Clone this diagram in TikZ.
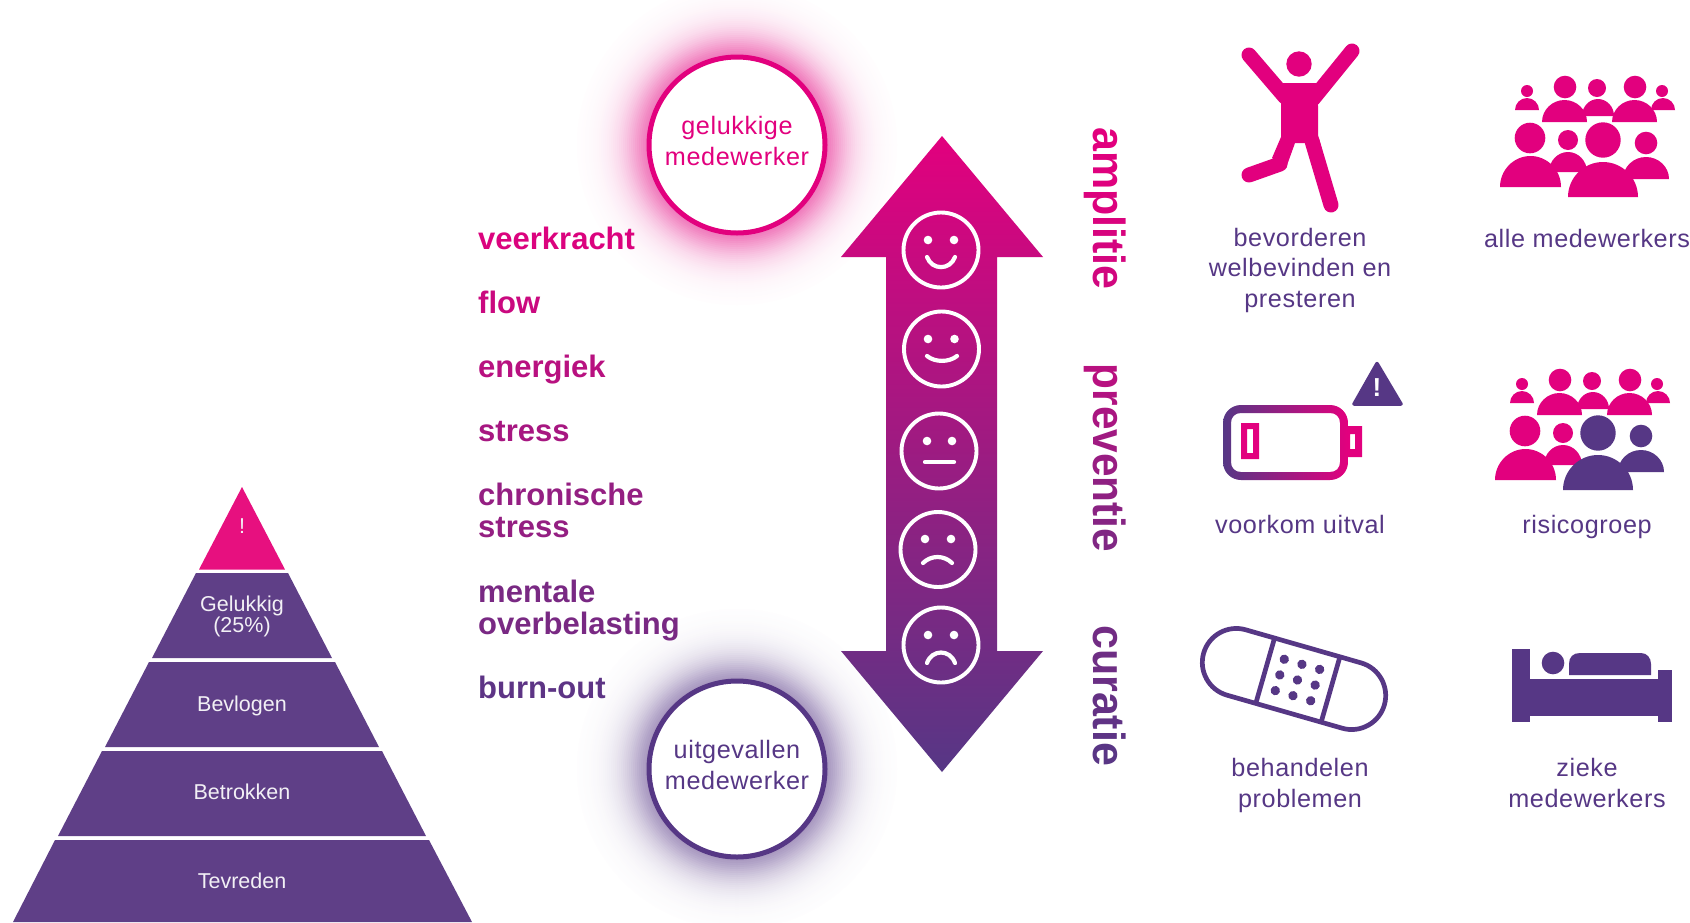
\documentclass[tikz,border=0pt]{standalone}
\usepackage{fontspec}
\setmainfont{Liberation Sans}
\newfontfamily\lsfont[LetterSpace=2.4]{Liberation Sans}
\definecolor{pk}{HTML}{E2007E}
\definecolor{pu}{HTML}{563785}
\definecolor{pm}{HTML}{A32583}
\definecolor{pyr}{HTML}{5F3F87}
\definecolor{pyrtop}{HTML}{E7107F}
\newcommand\persn[8]{%
  \fill[#1] (#2,#3) circle[radius=#4];
  \fill[#1] (#5,#8) .. controls (#5,{#8-.55*(#8-#7)}) and ({(#5+#6)/2-.275*(#6-#5)},#7) .. ({(#5+#6)/2},#7)
     .. controls ({(#5+#6)/2+.275*(#6-#5)},#7) and (#6,{#8-.55*(#8-#7)}) .. (#6,#8) -- cycle;}
\newcommand\pkpeople{%
  \persn{pk}{1527}{91}{6}{1515}{1539}{98}{110}
  \persn{pk}{1565}{87}{11.3}{1542}{1587}{100}{122}
  \persn{pk}{1597}{88}{9}{1582}{1614}{99}{116}
  \persn{pk}{1635}{87}{11.3}{1612}{1657}{100}{122}
  \persn{pk}{1662}{91}{6}{1651}{1675}{98}{110}
  \persn{pk}{1530}{138}{15.3}{1500}{1561}{156}{187}
  \persn{pk}{1568}{140}{10}{1549}{1587}{152}{172}}
\newcommand\lw[2]{\textcolor{pk!#1!pu}{#2}}
\tikzset{
  lbl/.style={inner sep=0pt,anchor=base,align=center,text=pu,font=\lsfont\fontsize{25.2}{30.5}\selectfont},
  pyrlbl/.style={inner sep=0pt,anchor=base,align=center,text=white!92!pyr,font=\fontsize{21.5}{21}\selectfont},
  word/.style={inner sep=0pt,anchor=base west,align=left,font=\bfseries\fontsize{31}{32}\selectfont},
  vert/.style={inner sep=0pt,anchor=base west,rotate=-90,xscale=.955,font=\bfseries\fontsize{45}{45}\selectfont},
  smile/.style={draw=white,line width=3.9pt},
  mouth/.style={draw=white,line width=4.2pt,line cap=round},
  ring/.style={fill=white,line width=5pt}
}
\begin{document}
\begin{tikzpicture}[x=1pt,y=-1pt]
\useasboundingbox (0,0) rectangle (1690,922);
\fill[white] (0,0) rectangle (1690,922);
% glows
\foreach \r in {160,158,...,92}{
  \pgfmathsetmacro\p{52*exp(-pow((\r-90)/25,1.4))}
  \fill[pk!\p!white] (737,145) circle[radius=\r];
  \fill[pu!\p!white] (737,769) circle[radius=\r];
}
% pyramid
\fill[pyrtop] (242,487) -- (285,569.5) -- (199,569.5) -- cycle;
\fill[pyr] (196,573) -- (288,573) -- (332,658) -- (152,658) -- cycle;
\fill[pyr] (149,662) -- (335,662) -- (379,747) -- (105,747) -- cycle;
\fill[pyr] (102,751) -- (382,751) -- (426,836) -- (58,836) -- cycle;
\fill[pyr] (55,840) -- (429,840) -- (472,922) -- (13,922) -- cycle;
\node[pyrlbl] (t0) at (242,533) {!};
\node[pyrlbl] (t1) at (242,632.5) {Gelukkig\\(25\%)};
\node[pyrlbl] (t2) at (242,711) {Bevlogen};
\node[pyrlbl] (t3) at (242,799) {Betrokken};
\node[pyrlbl] (t4) at (242,888) {Tevreden};
% left words
\node[word,text=pk!95!pu] (w1) at (478,249) {veerkracht};
\node[word,text=pk!83!pu] (w2) at (478,313) {flow};
\node[word,text=pk!70!pu] (w3) at (478,377) {energiek};
\node[word,text=pk!58!pu] (w4) at (478,441) {stress};
\node[word,text=pk!44!pu] (w5) at (478,537.5) {chronische\\stress};
\node[word,text=pk!25!pu] (w6) at (478,634) {mentale\\overbelasting};
\node[word,text=pk!5!pu] (w7) at (478,698) {burn-out};
% circles
\draw[ring,draw=pk] (737,145) circle[radius=88];
\draw[ring,draw=pu] (737,769) circle[radius=88];
\node[lbl,text=pk] (c1) at (737,165) {gelukkige\\medewerker};
\node[lbl] (c2) at (737,789) {uitgevallen\\medewerker};
% arrow
\path[shading=axis,top color=pk,middle color=pm,bottom color=pu,shading angle=0]
  (942,136) -- (1043,257) -- (997,257) -- (997,651) -- (1043,651) -- (942,772)
  -- (841,651) -- (886,651) -- (886,257) -- (841,257) -- cycle;
% smileys
\draw[smile] (941,250) circle[radius=37.5];
\fill[white] (928,240) circle[radius=4.3] (954,240) circle[radius=4.3];
\draw[mouth] (927,257) .. controls (932,270.5) and (950,270.5) .. (955,257);
\draw[smile] (941.5,349) circle[radius=37.5];
\fill[white] (928,339) circle[radius=4.3] (954.5,339) circle[radius=4.3];
\draw[mouth] (927,356) .. controls (935,362.5) and (949,362.5) .. (957,356);
\draw[smile] (939,451) circle[radius=37.5];
\fill[white] (927,441) circle[radius=4.3] (952,441) circle[radius=4.3];
\draw[mouth] (925,462) -- (954,462);
\draw[smile] (938,549.5) circle[radius=37.5];
\fill[white] (925,539) circle[radius=4.3] (951,539) circle[radius=4.3];
\draw[mouth] (923,563) .. controls (931,555) and (944,555) .. (952,563);
\draw[smile] (941,645) circle[radius=37.5];
\fill[white] (928,635) circle[radius=4.3] (954,635) circle[radius=4.3];
\draw[mouth] (927,663) .. controls (932,649) and (950,649) .. (955,663);
% vertical words
\node[vert,text=pk] (v1) at (1093,127) {\lw{100}{a}\lw{98}{m}\lw{96}{p}\lw{94}{l}\lw{92}{i}\lw{91}{t}\lw{90}{i}\lw{88}{e}};
\node[vert,xscale=.985] (v2) at (1093,363.5) {\lw{70}{p}\lw{65}{r}\lw{59}{e}\lw{53}{v}\lw{47}{e}\lw{41}{n}\lw{37}{t}\lw{34}{i}\lw{30}{e}};
\node[vert] (v3) at (1093,625) {\lw{20}{c}\lw{17}{u}\lw{14}{r}\lw{10}{a}\lw{7}{t}\lw{5}{i}\lw{2}{e}};
% jumping man
\fill[pk] (1299,64) circle[radius=12.7];
\fill[pk] (1283,83) -- (1317,83) -- (1318,106) -- (1318,135) -- (1322,150) -- (1305,143) -- (1295,143)
  -- (1286,168) -- (1272,158) -- (1281,137) -- (1281,104) -- cycle;
\draw[pk,line width=15pt,line cap=round] (1249,55) -- (1285,97);
\draw[pk,line width=15pt,line cap=round] (1352,51) -- (1313,99);
\draw[pk,line width=15pt,line cap=round] (1331,205) -- (1312,141);
\draw[pk,line width=15pt,line cap=round] (1249,175) -- (1280,164);
\node[lbl] (r1) at (1300,307) {bevorderen\\welbevinden en\\presteren};
% all people
\pkpeople
\persn{pk}{1646}{143}{11.3}{1623}{1669}{157}{179}
\persn{pk}{1603}{140}{17.7}{1568}{1638}{162}{197}
\node[lbl] (r2) at (1587,247) {alle medewerkers};
% battery
\path[even odd rule,left color=pu,right color=pk]
  (1223,423) .. controls (1223,413) and (1231,405) .. (1241,405) -- (1330,405)
  .. controls (1340,405) and (1348,413) .. (1348,423) -- (1348,462)
  .. controls (1348,472) and (1340,480) .. (1330,480) -- (1241,480)
  .. controls (1231,480) and (1223,472) .. (1223,462) -- cycle
  (1231,423) .. controls (1231,417) and (1235,413) .. (1241,413) -- (1330,413)
  .. controls (1336,413) and (1340,417) .. (1340,423) -- (1340,462)
  .. controls (1340,468) and (1336,472) .. (1330,472) -- (1241,472)
  .. controls (1235,472) and (1231,468) .. (1231,462) -- cycle;
\fill[pk,even odd rule] (1348,426) rectangle (1362,457) (1350,434) rectangle (1355,449);
\fill[pk,even odd rule] (1241,423) rectangle (1259,459) (1247,429) rectangle (1253,453);
\draw[pu,fill=pu,line width=3.5pt,line join=round] (1377,363.5) -- (1401,404) -- (1354,404) -- cycle;
\node[inner sep=0pt,anchor=base,text=white,font=\bfseries\fontsize{26}{26}\selectfont] (warn) at (1377,396) {!};
\node[lbl] (r3) at (1300,533) {voorkom uitval};
% risk group
\begin{scope}[shift={(-5,293)}]
\pkpeople
\persn{pu}{1646}{143}{11.3}{1623}{1669}{157}{179}
\persn{pu}{1603}{140}{17.7}{1568}{1638}{162}{197}
\end{scope}
\node[lbl] (r4) at (1587,533) {risicogroep};
% bandage
\begin{scope}[shift={(1294,679)},rotate=-16]
\draw[pu,line width=4.7pt,rounded corners=34pt] (-94,-34) rectangle (94,34);
\draw[pu,line width=4.7pt] (-30,-34) -- (-30,34) (38,-34) -- (38,34);
\foreach \i in {-1,0,1}\foreach \j in {-1,0,1}
  \fill[pu] ({3.6+\i*18.4},{\j*16.3}) circle[radius=4.7];
\end{scope}
\node[lbl] (r5) at (1300,807) {behandelen\\problemen};
% bed
\fill[pu] (1512,649) rectangle (1530,722);
\fill[pu] (1658,670) rectangle (1672,722);
\fill[pu] (1530,679) rectangle (1658,716);
\fill[pu] (1553,663) circle[radius=11.3];
\fill[pu] (1569,675) -- (1569,664) .. controls (1569,657) and (1573,653) .. (1580,653) -- (1641,653)
  .. controls (1647,653) and (1651,658) .. (1651,664) -- (1651,675) -- cycle;
\node[lbl] (r6) at (1587,807) {zieke\\medewerkers};
\end{tikzpicture}
\end{document}
